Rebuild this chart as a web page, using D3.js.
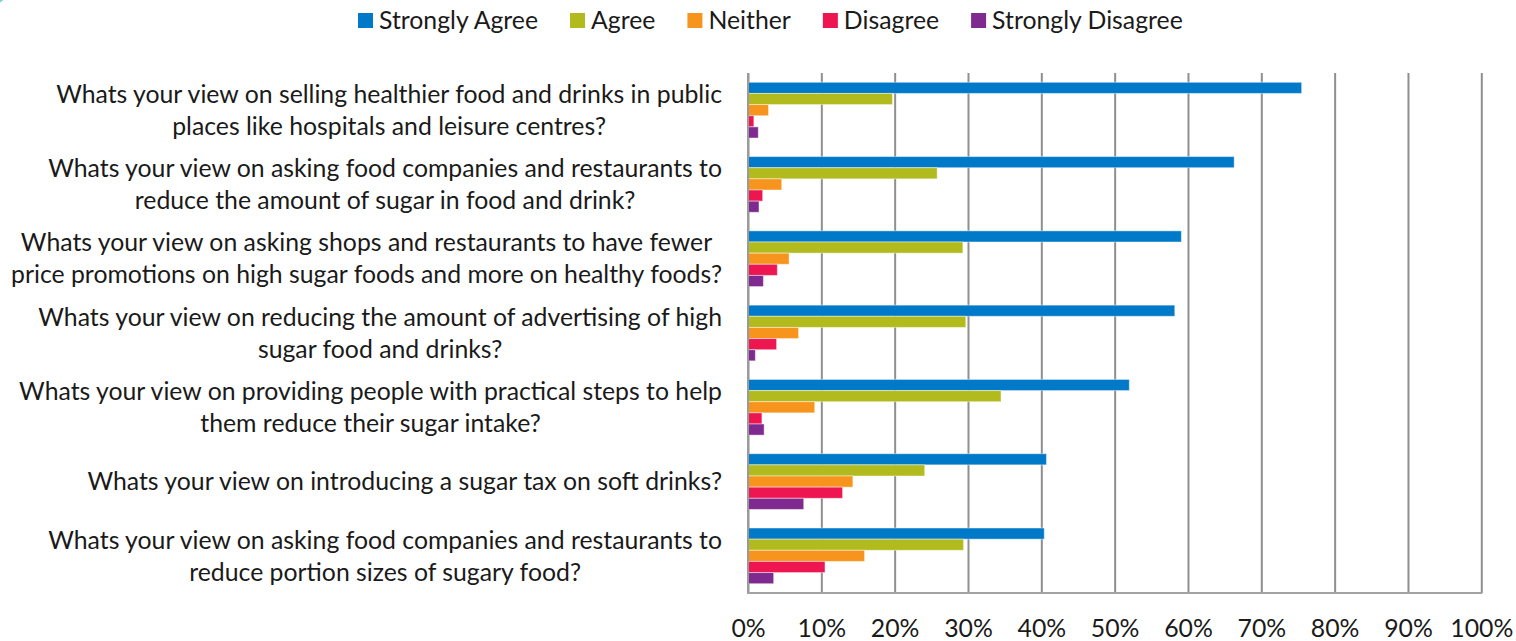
<!DOCTYPE html>
<html>
<head>
<meta charset="utf-8">
<script src="https://cdn.jsdelivr.net/npm/d3@7"></script>
<style>
  html, body { margin: 0; padding: 0; background: #fff; }
  svg { display: block; }
  text { font-family: Lato, "Open Sans", sans-serif; fill: #1a1a1a; }
</style>
</head>
<body>
<svg id="chart" width="1516" height="641"></svg>
<script>
// ---- DATA ----
const categories = [
  "Whats your view on selling healthier food and drinks in public\nplaces like hospitals and leisure centres?",
  "Whats your view on asking food companies and restaurants to\nreduce the amount of sugar in food and drink?",
  "Whats your view on asking shops and restaurants to have fewer\nprice promotions on high sugar foods and more on healthy foods?",
  "Whats your view on reducing the amount of advertising of high\nsugar food and drinks?",
  "Whats your view on providing people with practical steps to help\nthem reduce their sugar intake?",
  "Whats your view on introducing a sugar tax on soft drinks?",
  "Whats your view on asking food companies and restaurants to\nreduce portion sizes of sugary food?"
];
const seriesNames = ["Strongly Agree", "Agree", "Neither", "Disagree", "Strongly Disagree"];
const stronglyAgree    = [75.5, 66.3, 59.1, 58.2, 52.0, 40.7, 40.4];
const agree            = [19.7, 25.8, 29.3, 29.7, 34.5, 24.1, 29.4];
const neither          = [2.8, 4.6, 5.6, 6.9, 9.1, 14.3, 15.9];
const disagree         = [0.8, 2.0, 4.0, 3.9, 1.9, 12.9, 10.5];
const stronglyDisagree = [1.4, 1.5, 2.1, 1.0, 2.2, 7.6, 3.5];
const tickValues = [0, 10, 20, 30, 40, 50, 60, 70, 80, 90, 100];
const tickLabels = ["0%", "10%", "20%", "30%", "40%", "50%", "60%", "70%", "80%", "90%", "100%"];

// ---- STYLE ----
const colors = ["#0079C9", "#B1BB1E", "#F7941D", "#ED1651", "#7F2A8E"];
const seriesValues = [stronglyAgree, agree, neither, disagree, stronglyDisagree];
const fontSize = 24.8;

const svg = d3.select("#chart");
const plot = { left: 748, right: 1481.3, top: 73, bottom: 593 };

const x = d3.scaleLinear().domain([0, 100]).range([plot.left, plot.right]);
const y = d3.scaleBand().domain(d3.range(categories.length))
  .range([plot.top, plot.bottom]).paddingInner(0.25).paddingOuter(0.125);
const ySub = d3.scaleBand().domain(d3.range(seriesNames.length)).range([0, y.bandwidth()]);

// decorative arc top-left
svg.append("path")
  .attr("d", d3.arc()({ innerRadius: 33, outerRadius: 36.5, startAngle: Math.PI * 0.5, endAngle: Math.PI * 1.0 }))
  .attr("transform", "translate(-20,-28)")
  .attr("fill", "#7FD0CC");

// gridlines
svg.append("g")
  .attr("transform", `translate(0,${plot.bottom})`)
  .call(d3.axisBottom(x).tickValues(tickValues).tickSize(-(plot.bottom - plot.top)).tickFormat(""))
  .call(g => g.select(".domain").remove())
  .call(g => g.selectAll(".tick line").attr("stroke", "#8f8f8f").attr("stroke-width", 2));

// bars
const groups = svg.append("g").selectAll("g")
  .data(categories.map((c, i) => i))
  .join("g")
  .attr("transform", i => `translate(0,${y(i)})`);

groups.selectAll("rect")
  .data(i => seriesValues.map((vals, s) => ({ s, v: vals[i] })))
  .join("rect")
  .attr("x", x(0))
  .attr("y", d => ySub(d.s))
  .attr("width", d => x(d.v) - x(0))
  .attr("height", ySub.bandwidth())
  .attr("fill", d => colors[d.s])
  .attr("stroke", "#ffffff")
  .attr("stroke-opacity", 0.45)
  .attr("stroke-width", 1);

// left axis line
svg.append("g")
  .attr("transform", `translate(${plot.left},0)`)
  .call(d3.axisLeft(y).tickSize(0).tickFormat(""))
  .call(g => g.select(".domain").attr("stroke", "#9a9a9a").attr("stroke-width", 2).attr("d", `M0,${plot.top}V${plot.bottom + 1}`));

// bottom axis
svg.append("g")
  .attr("transform", `translate(0,${plot.bottom})`)
  .call(d3.axisBottom(x).tickValues(tickValues).tickSize(0).tickPadding(26)
    .tickFormat((d, i) => tickLabels[i]))
  .call(g => g.select(".domain").attr("stroke", "#a3a3a3").attr("stroke-width", 2).attr("d", `M${plot.left - 1},0H${plot.right + 1}`))
  .call(g => g.selectAll("text").attr("font-size", fontSize).attr("font-family", "Lato, sans-serif").attr("fill", "#1a1a1a"));

// category labels (centered blocks, right edge at 722)
const labelRight = 722;
const lineH = 32;
const labelG = svg.append("g");
categories.forEach((c, i) => {
  const lines = c.split("\n");
  const t = labelG.append("text").attr("font-size", fontSize).attr("text-anchor", "middle");
  const cy = y(i) + y.bandwidth() / 2;
  lines.forEach((ln, k) => {
    t.append("tspan").attr("y", cy + (k - (lines.length - 1) / 2) * lineH).attr("dy", "0.35em").text(ln);
  });
  let maxW = 0;
  t.selectAll("tspan").each(function () { maxW = Math.max(maxW, this.getComputedTextLength()); });
  t.selectAll("tspan").attr("x", labelRight - maxW / 2);
});

// legend
const legend = svg.append("g");
let lx = 358;
seriesNames.forEach((name, s) => {
  legend.append("rect").attr("x", lx).attr("y", 13).attr("width", 15).attr("height", 15).attr("fill", colors[s]);
  const t = legend.append("text").attr("x", lx + 21).attr("y", 20.5).attr("dy", "0.35em")
    .attr("font-size", fontSize).text(name);
  lx += 21 + t.node().getComputedTextLength() + 32;
});
</script>
</body>
</html>
